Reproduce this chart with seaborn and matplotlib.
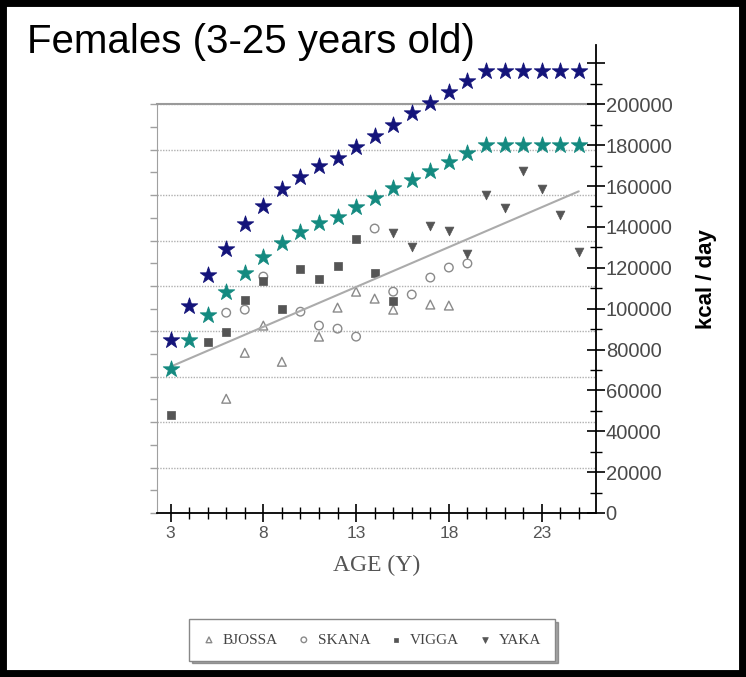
import matplotlib
matplotlib.use("Agg")
import matplotlib.pyplot as plt
import seaborn as sns
from matplotlib.patches import Rectangle
from matplotlib.ticker import FixedLocator, FuncFormatter, MultipleLocator

# ages of the two star series (3..25)
STAR_AGE = [3, 4, 5, 6, 7, 8, 9, 10, 11, 12, 13, 14, 15, 16, 17, 18, 19, 20, 21, 22, 23, 24, 25]
UPPER_KCAL = [84800, 101500, 116700, 129400, 141200, 150000, 158300, 164200, 169600, 173500, 178900,
              184300, 189700, 195600, 200500, 205900, 211300, 216200, 216200, 216200, 216200, 216200, 216200]
LOWER_KCAL = [70600, 84800, 97100, 108300, 117600, 125500, 131900, 137300, 141700, 144600, 149500,
              153900, 158800, 162700, 167200, 171600, 176000, 179900, 179900, 179900, 179900, 179900, 179900]

BJOSSA_AGE = [6, 7, 8, 9, 11, 12, 13, 14, 15, 17, 18]
BJOSSA_KCAL = [55900, 78400, 91700, 74000, 86300, 100500, 108300, 104900, 99500, 102000, 101500]
SKANA_AGE = [6, 7, 8, 10, 11, 12, 13, 14, 15, 16, 17, 18, 19]
SKANA_KCAL = [98000, 99500, 115700, 98500, 91700, 90200, 86300, 139200, 108300, 106900, 115200, 120100, 122100]
VIGGA_AGE = [3, 5, 6, 7, 8, 9, 10, 11, 12, 13, 14, 15]
VIGGA_KCAL = [48000, 83800, 88700, 104400, 113700, 100000, 119600, 114700, 121100, 134300, 117200, 103900]
YAKA_AGE = [15, 16, 17, 18, 19, 20, 21, 22, 23, 24, 25]
YAKA_KCAL = [136800, 130400, 140200, 138200, 126500, 155400, 149000, 167200, 158300, 145600, 127900]

TREND_AGE = [3, 25]
TREND_KCAL = [71600, 157400]

X_LABELS = [3, 8, 13, 18, 23]

NAVY = "#14147a"
TEAL = "#148a80"
GRAY_FILL = "#555555"
GRAY_EDGE = "#8a8a8a"

sns.set_style("white")
plt.rcParams["font.family"] = ["Liberation Sans", "DejaVu Sans"]

W, H = 746, 677
fig = plt.figure(figsize=(W / 100, H / 100), dpi=100)

# plot box in pixels
left_px, right_px, bottom_px, top_px = 157, 596, 513, 45
y_max = 229000
scan_top_px = bottom_px - (bottom_px - top_px) * 200000 / y_max

ax_scan = fig.add_axes([left_px / W, 1 - bottom_px / H, (right_px - left_px) / W,
                        (bottom_px - scan_top_px) / H])
ax = fig.add_axes([left_px / W, 1 - bottom_px / H, (right_px - left_px) / W,
                   (bottom_px - top_px) / H])
ax.patch.set_visible(False)

xlim = (2.27, 25.93)

# background "scanned" frame: dotted grid, grey left/top lines
ax_scan.set_xlim(*xlim)
ax_scan.set_ylim(0, 9)
ax_scan.yaxis.set_major_locator(MultipleLocator(1))
ax_scan.yaxis.set_minor_locator(MultipleLocator(0.5))
ax_scan.set_xticks([])
ax_scan.set_yticklabels([])
ax_scan.grid(axis="y", which="major", linestyle=(0, (1, 1)), color="#b0b0b0", linewidth=1)
ax_scan.tick_params(axis="y", which="both", left=True, direction="out", length=5,
                    color="#a0a0a0", width=1)
for side in ["right", "bottom"]:
    ax_scan.spines[side].set_visible(False)
ax_scan.spines["left"].set_color("#a0a0a0")
ax_scan.spines["top"].set_color("#9a9a9a")
ax_scan.spines["top"].set_linewidth(1.5)

# data
sns.lineplot(x=TREND_AGE, y=TREND_KCAL, ax=ax, color="#ababab", linewidth=1.5)
sns.scatterplot(x=BJOSSA_AGE, y=BJOSSA_KCAL, ax=ax, marker="^", s=40, facecolor="none",
                edgecolor=GRAY_EDGE, linewidth=1, label="BJOSSA")
sns.scatterplot(x=SKANA_AGE, y=SKANA_KCAL, ax=ax, marker="o", s=38, facecolor="none",
                edgecolor=GRAY_EDGE, linewidth=1, label="SKANA")
sns.scatterplot(x=VIGGA_AGE, y=VIGGA_KCAL, ax=ax, marker="s", s=28, color=GRAY_FILL,
                edgecolor=GRAY_FILL, linewidth=0.5, label="VIGGA")
sns.scatterplot(x=YAKA_AGE, y=YAKA_KCAL, ax=ax, marker="v", s=40, color=GRAY_FILL,
                edgecolor=GRAY_FILL, linewidth=0.5, label="YAKA")
sns.scatterplot(x=STAR_AGE, y=LOWER_KCAL, ax=ax, marker="*", s=155, color=TEAL,
                edgecolor=TEAL, linewidth=0.6, zorder=4)
sns.scatterplot(x=STAR_AGE, y=UPPER_KCAL, ax=ax, marker="*", s=155, color=NAVY,
                edgecolor=NAVY, linewidth=0.6, zorder=4)

handles, labels = ax.get_legend_handles_labels()
if ax.get_legend() is not None:
    ax.get_legend().remove()

ax.set_xlim(*xlim)
ax.set_ylim(0, y_max)
for side in ["left", "top"]:
    ax.spines[side].set_visible(False)
for side in ["right", "bottom"]:
    ax.spines[side].set_visible(True)
    ax.spines[side].set_color("black")
    ax.spines[side].set_linewidth(1.3)

ax.xaxis.set_major_locator(FixedLocator(X_LABELS))
ax.xaxis.set_minor_locator(MultipleLocator(1))
ax.tick_params(axis="x", which="major", bottom=True, direction="inout", length=13, width=1.2,
               color="black", labelcolor="#555555", labelsize=12.5, pad=3)
ax.tick_params(axis="x", which="minor", bottom=True, direction="inout", length=9, width=1,
               color="black")

ax.yaxis.tick_right()
ax.yaxis.set_major_locator(MultipleLocator(20000))
ax.yaxis.set_minor_locator(MultipleLocator(10000))
ax.yaxis.set_major_formatter(FuncFormatter(lambda v, _: f"{v:.0f}" if v <= 200000 else ""))
ax.tick_params(axis="y", which="major", right=True, left=False, direction="inout", length=13,
               width=1.2, color="black", labelcolor="#4a4a4a", labelsize=14.5, pad=0.5)
ax.tick_params(axis="y", which="minor", right=True, left=False, direction="inout", length=9,
               width=1, color="black")

ax.set_xlabel("AGE (Y)", family=["Liberation Serif", "DejaVu Serif"], fontsize=17,
              color="#555555", labelpad=10)
ax.yaxis.set_label_position("right")
ax.set_ylabel("kcal / day", fontsize=16, fontweight="bold", color="black", labelpad=17)

fig.text(27 / W, 1 - 42 / H, "Females (3-25 years old)", fontsize=29, ha="left", va="center",
         color="black")

leg = fig.legend(handles, labels, loc="center", bbox_to_anchor=(372 / W, 1 - 640 / H), ncol=4,
                 frameon=True, fancybox=False, shadow=True, edgecolor="#888888",
                 prop={"family": ["Liberation Serif", "DejaVu Serif"], "size": 11},
                 labelcolor="#444444", markerscale=0.65, handlelength=0.8, handletextpad=0.5,
                 columnspacing=1.3, borderpad=0.9, borderaxespad=0)
leg.get_frame().set_linewidth(1)

# black picture border
fig.patches.append(Rectangle((0, 0), 1, 1, transform=fig.transFigure, fill=False,
                             edgecolor="black", linewidth=10, zorder=10))

fig.savefig("out.png", dpi=100)
